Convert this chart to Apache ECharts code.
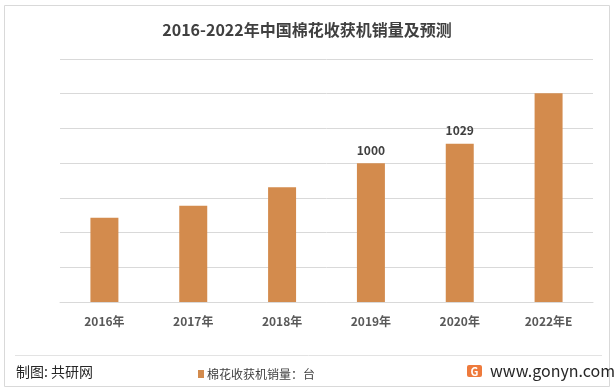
<!DOCTYPE html>
<html><head><meta charset="utf-8">
<script src="https://cdn.jsdelivr.net/npm/echarts@6/dist/echarts.min.js"></script>
<style>html,body{margin:0;padding:0;background:#fff}#c{width:614px;height:392px}</style>
</head><body><div id="c"></div>
<script>
const categories = ['2016年','2017年','2018年','2019年','2020年','2022年E'];
const sales = [607, 694, 826, 1000, 1140, 1503];
const valueLabels = ['', '', '', '1000', '1029', ''];
const seriesName = '棉花收获机销量：台';
const titleText = '2016-2022年中国棉花收获机销量及预测';

const chart = echarts.init(document.getElementById('c'));
const font = '"Noto Sans CJK SC","Noto Sans",sans-serif';
chart.setOption({
  animation: false,
  textStyle: {fontFamily: font},
  title: {text: titleText, left: 'center', top: 17,
    textStyle: {fontSize: 16, fontWeight: 'bold', color: '#404040', fontFamily: font}},
  grid: {left: 60, right: 21, top: 59, bottom: 90, containLabel: false},
  legend: {data: [seriesName], left: 193, top: 363, icon: 'rect', itemWidth: 6, itemHeight: 8, itemGap: 3,
    textStyle: {fontSize: 12, color: '#404040', fontFamily: font, padding: [0,0,0,-2]}},
  xAxis: {type: 'category', data: categories,
    axisLine: {lineStyle: {color: '#D9D9D9'}}, axisTick: {show: false},
    axisLabel: {color: '#595959', fontSize: 12, fontWeight: 'bold', margin: 13, fontFamily: font}},
  yAxis: {type: 'value', min: 0, max: 1750, interval: 250,
    axisLabel: {show: false}, axisLine: {show: false}, axisTick: {show: false},
    splitLine: {lineStyle: {color: '#D9D9D9'}}},
  series: [{name: seriesName, type: 'bar', data: sales, barWidth: '31.5%',
    itemStyle: {color: '#D38B4D'},
    label: {show: true, position: 'top', distance: 7, color: '#404040', fontSize: 12, fontWeight: 'bold',
      formatter: p => valueLabels[p.dataIndex]}}],
  graphic: [
    {type: 'rect', shape: {x: 4.5, y: 5.5, width: 605, height: 381}, style: {fill: 'none', stroke: '#D9D9D9', lineWidth: 1}, silent: true},
    {type: 'line', shape: {x1: 15, y1: 355.5, x2: 602, y2: 355.5}, style: {stroke: '#E3E3E3', lineWidth: 1}},
    {type: 'text', x: 16, y: 372, style: {text: '制图: 共研网', fontSize: 14, fill: '#262626', fontFamily: font, verticalAlign: 'middle'}},
    {type: 'rect', shape: {x: 467, y: 365, width: 15, height: 12, r: 2}, style: {fill: '#EE7A3C'}},
    {type: 'text', x: 474.5, y: 371.5, style: {text: 'G', fontSize: 11, fontWeight: 'bold', fill: '#fff', fontFamily: font, align: 'center', verticalAlign: 'middle'}},
    {type: 'text', x: 490, y: 371, style: {text: 'www.gonyn.com', fontSize: 16, fill: '#262626', fontFamily: font, verticalAlign: 'middle'}}
  ]
});
</script></body></html>
